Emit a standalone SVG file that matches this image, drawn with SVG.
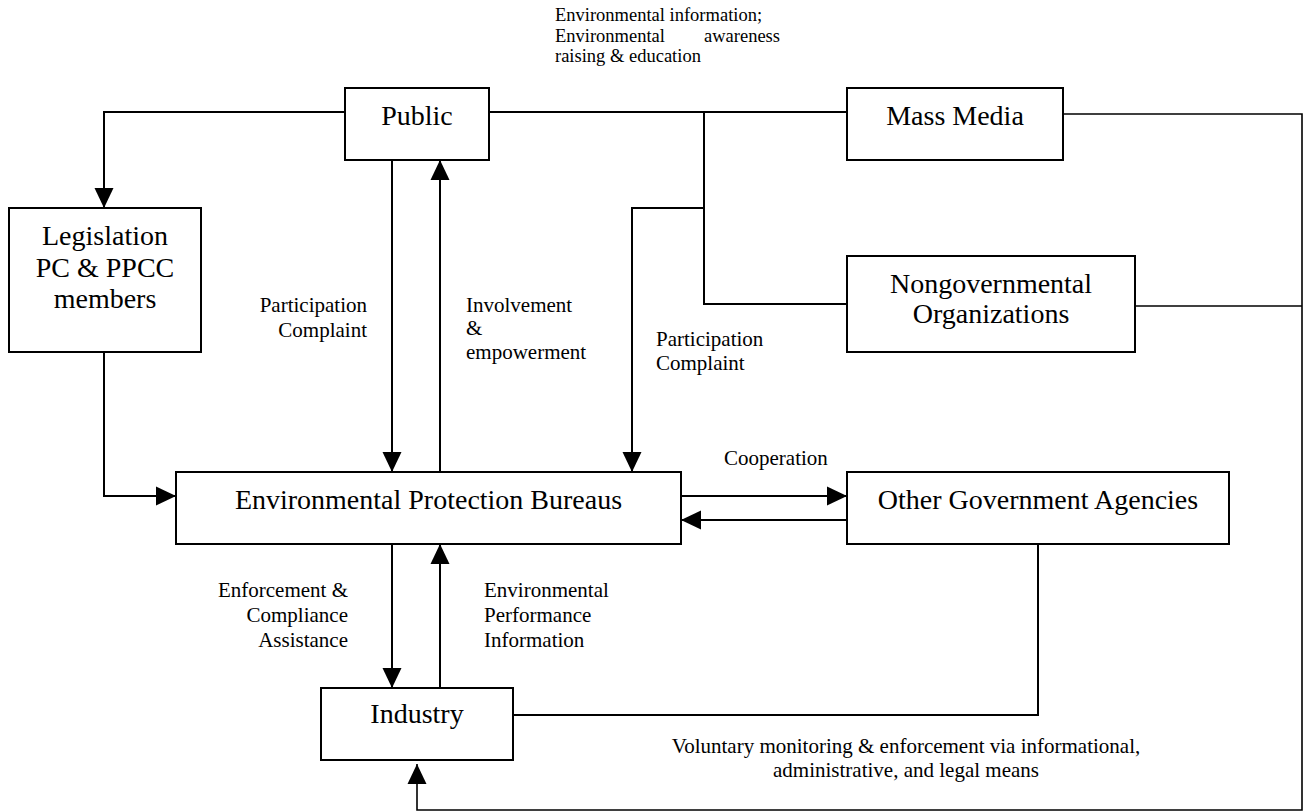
<svg xmlns="http://www.w3.org/2000/svg" width="1304" height="812" viewBox="0 0 1304 812">
<style>
  .box { fill: #fff; stroke: #000; stroke-width: 2; }
  .big { font-family: "Liberation Serif", "Times New Roman", serif; font-size: 28px; fill: #000; text-anchor: middle; }
  .lbl { font-family: "Liberation Serif", "Times New Roman", serif; font-size: 21px; fill: #000; }
  .top { font-family: "Liberation Serif", "Times New Roman", serif; font-size: 18.5px; fill: #000; }
  .ln { fill: none; stroke: #000; stroke-width: 2; }
  .thin { fill: none; stroke: #000; stroke-width: 1.6; }
</style>
<defs>
  <marker id="ah" viewBox="0 0 20 20" refX="20" refY="10" markerWidth="20" markerHeight="20" markerUnits="userSpaceOnUse" orient="auto">
    <path d="M0,0.5 L20,10 L0,19.5 z" fill="#000"/>
  </marker>
</defs>
<rect width="1304" height="812" fill="#fff"/>

<g id="connectors">
  <path class="ln" d="M345,112 H104 V208" marker-end="url(#ah)"/>
  <path class="ln" d="M104,352 V496 H176" marker-end="url(#ah)"/>
  <path class="ln" d="M392,160 V472" marker-end="url(#ah)"/>
  <path class="ln" d="M440,472 V160" marker-end="url(#ah)"/>
  <path class="ln" d="M489,112 H847"/>
  <path class="ln" d="M704,112 V304 H847"/>
  <path class="ln" d="M704,208 H632 V472" marker-end="url(#ah)"/>
  <path class="ln" d="M681,496 H847" marker-end="url(#ah)"/>
  <path class="ln" d="M847,520 H681" marker-end="url(#ah)"/>
  <path class="ln" d="M392,544 V688" marker-end="url(#ah)"/>
  <path class="ln" d="M440,688 V544" marker-end="url(#ah)"/>
  <path class="ln" d="M513,715 H1038 V545"/>
  <path class="thin" d="M1063,114 H1302 V810 H417 V764" marker-end="url(#ah)"/>
  <path class="thin" d="M1135,306 H1302"/>
</g>

<g id="labels">
  <text class="top" x="555" y="21">Environmental information;</text>
  <text class="top" x="555" y="42">Environmental</text>
  <text class="top" x="780" y="42" text-anchor="end">awareness</text>
  <text class="top" x="555" y="62">raising &amp; education</text>

  <text class="lbl" x="367" y="312" text-anchor="end">Participation</text>
  <text class="lbl" x="367" y="337" text-anchor="end">Complaint</text>

  <text class="lbl" x="466" y="312">Involvement</text>
  <text class="lbl" x="466" y="335">&amp;</text>
  <text class="lbl" x="466" y="359">empowerment</text>

  <text class="lbl" x="656" y="346">Participation</text>
  <text class="lbl" x="656" y="370">Complaint</text>

  <text class="lbl" x="724" y="465">Cooperation</text>

  <text class="lbl" x="348" y="597" text-anchor="end">Enforcement &amp;</text>
  <text class="lbl" x="348" y="622" text-anchor="end">Compliance</text>
  <text class="lbl" x="348" y="647" text-anchor="end">Assistance</text>

  <text class="lbl" x="484" y="597">Environmental</text>
  <text class="lbl" x="484" y="622">Performance</text>
  <text class="lbl" x="484" y="647">Information</text>

  <text class="lbl" x="906" y="753" text-anchor="middle">Voluntary monitoring &amp; enforcement via informational,</text>
  <text class="lbl" x="906" y="777" text-anchor="middle">administrative, and legal means</text>
</g>

<g id="public">
  <rect class="box" x="345" y="88" width="144" height="72"/>
  <text class="big" x="417" y="125">Public</text>
</g>
<g id="mass-media">
  <rect class="box" x="847" y="88" width="216" height="72"/>
  <text class="big" x="955" y="125">Mass Media</text>
</g>
<g id="legislation">
  <rect class="box" x="9" y="208" width="192" height="144"/>
  <text class="big" x="105" y="245">Legislation</text>
  <text class="big" x="105" y="277">PC &amp; PPCC</text>
  <text class="big" x="105" y="308">members</text>
</g>
<g id="ngo">
  <rect class="box" x="847" y="256" width="288" height="96"/>
  <text class="big" x="991" y="293">Nongovernmental</text>
  <text class="big" x="991" y="323">Organizations</text>
</g>
<g id="epb">
  <rect class="box" x="176" y="472" width="505" height="72"/>
  <text class="big" x="428.5" y="509">Environmental Protection Bureaus</text>
</g>
<g id="other-gov">
  <rect class="box" x="847" y="472" width="382" height="72"/>
  <text class="big" x="1038" y="509">Other Government Agencies</text>
</g>
<g id="industry">
  <rect class="box" x="321" y="688" width="192" height="72"/>
  <text class="big" x="417" y="723">Industry</text>
</g>
</svg>
